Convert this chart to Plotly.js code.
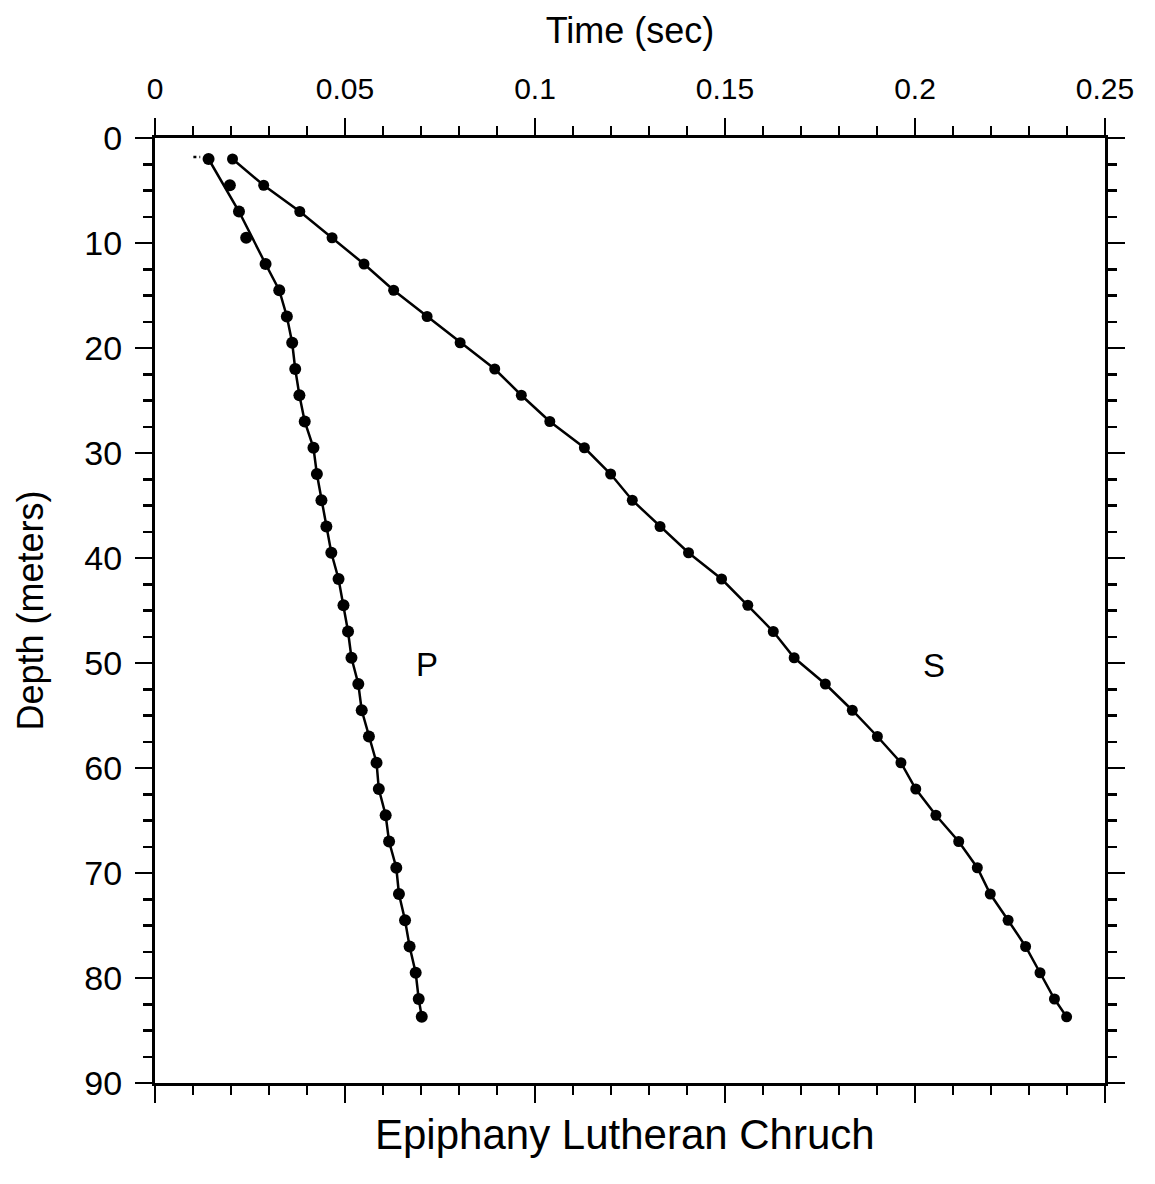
<!DOCTYPE html>
<html>
<head>
<meta charset="utf-8">
<script src="https://cdn.plot.ly/plotly-3.0.1.min.js"></script>
<style>html,body{margin:0;padding:0;background:#fff;}#chart{width:1155px;height:1184px;}</style>
</head>
<body>
<div id="chart"></div>
<script>
// P-wave arrivals: depth (m) and travel time (s)
const pDepth = [2,4.5,7,9.5,12,14.5,17,19.5,22,24.5,27,29.5,32,34.5,37,39.5,42,44.5,47,49.5,52,54.5,57,59.5,62,64.5,67,69.5,72,74.5,77,79.5,82,83.7];
const pTime  = [0.0141,0.0197,0.0221,0.0240,0.0291,0.0327,0.0347,0.0361,0.0369,0.0380,0.0394,0.0417,0.0426,0.0438,0.0451,0.0464,0.0483,0.0496,0.0508,0.0517,0.0535,0.0544,0.0563,0.0583,0.0589,0.0607,0.0616,0.0635,0.0642,0.0658,0.0670,0.0686,0.0694,0.0702];
// indices of P picks that the drawn fit line skips
const pLineSkip = [1,3];
// S-wave arrivals
const sDepth = [2,4.5,7,9.5,12,14.5,17,19.5,22,24.5,27,29.5,32,34.5,37,39.5,42,44.5,47,49.5,52,54.5,57,59.5,62,64.5,67,69.5,72,74.5,77,79.5,82,83.7];
const sTime  = [0.0204,0.0286,0.0381,0.0466,0.0550,0.0628,0.0716,0.0803,0.0894,0.0964,0.1039,0.1130,0.1199,0.1256,0.1329,0.1404,0.1491,0.1560,0.1627,0.1682,0.1764,0.1835,0.1901,0.1963,0.2002,0.2055,0.2115,0.2164,0.2198,0.2245,0.2291,0.2329,0.2367,0.2399];
// short dotted lead-in at the first P pick
const leadTime = [0.0101,0.0119];
const leadDepth = [1.8,1.8];
// labels
const waveLabels = ["P","S"];
const labelTime = [0.0717,0.205];
const labelDepth = [50.1,50.2];

const pLineT = pTime.filter((v,i)=>!pLineSkip.includes(i));
const pLineD = pDepth.filter((v,i)=>!pLineSkip.includes(i));

const FONT = "Liberation Sans, Arial, Helvetica, sans-serif";
const traces = [
  {x:pLineT, y:pLineD, mode:'lines', line:{color:'#000', width:2.5}, hoverinfo:'skip', showlegend:false},
  {x:pTime, y:pDepth, mode:'markers', marker:{color:'#000', size:12}, name:'P', showlegend:false},
  {x:sTime, y:sDepth, mode:'lines+markers', line:{color:'#000', width:2.5}, marker:{color:'#000', size:11}, name:'S', showlegend:false},
  {x:leadTime, y:leadDepth, mode:'lines', line:{color:'#000', width:2.5, dash:'dot'}, hoverinfo:'skip', showlegend:false}
];

const layout = {
  width:1155, height:1184,
  margin:{l:155, r:50, t:138, b:101},
  paper_bgcolor:'#fff', plot_bgcolor:'#fff',
  font:{family:FONT, color:'#000'},
  showlegend:false,
  xaxis:{
    range:[0,0.25], side:'top', dtick:0.05, tick0:0,
    showgrid:false, zeroline:false,
    showline:true, linecolor:'#000', linewidth:3, mirror:'allticks',
    ticks:'outside', ticklen:17, tickwidth:2.5, tickcolor:'#000',
    minor:{dtick:0.01, ticks:'outside', ticklen:9, tickwidth:2.5, tickcolor:'#000'},
    tickfont:{size:30, family:FONT, color:'#000'},
    ticklabelstandoff:7,
    title:{text:'Time (sec)', font:{size:36, family:FONT, color:'#000'}, standoff:18}
  },
  yaxis:{
    range:[90,0], dtick:10, tick0:0,
    showgrid:false, zeroline:false,
    showline:true, linecolor:'#000', linewidth:3, mirror:'allticks',
    ticks:'outside', ticklen:17, tickwidth:2.5, tickcolor:'#000',
    minor:{dtick:2.5, ticks:'outside', ticklen:9, tickwidth:2.5, tickcolor:'#000'},
    tickfont:{size:34, family:FONT, color:'#000'},
    ticklabelstandoff:6,
    title:{text:'Depth (meters)', font:{size:36, family:FONT, color:'#000'}, standoff:30}
  },
  annotations:[
    {x:labelTime[0], y:labelDepth[0], xref:'x', yref:'y', text:waveLabels[0], showarrow:false, font:{size:33, family:FONT, color:'#000'}},
    {x:labelTime[1], y:labelDepth[1], xref:'x', yref:'y', text:waveLabels[1], showarrow:false, font:{size:33, family:FONT, color:'#000'}},
    {x:0.5, y:0, xref:'paper', yref:'paper', text:'Epiphany Lutheran Chruch', showarrow:false, font:{size:42, family:FONT, color:'#000'}}
  ]
};
// place bottom caption in pixel terms relative to the plot area
layout.annotations[2].y = -(1160 - (1184 - 101)) / (1184 - 138 - 101);
layout.annotations[2].x = (625 - 155) / (1155 - 155 - 50);

Plotly.newPlot('chart', traces, layout, {displayModeBar:false, staticPlot:true});
</script>
</body>
</html>
